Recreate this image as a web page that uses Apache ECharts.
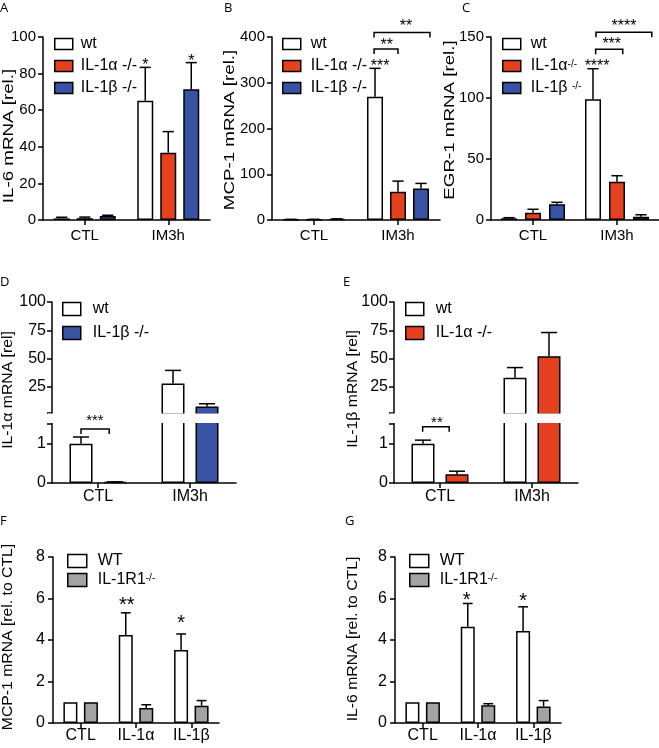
<!DOCTYPE html>
<html><head><meta charset="utf-8">
<script src="https://cdn.jsdelivr.net/npm/echarts@6/dist/echarts.min.js"></script>
<style>html,body{margin:0;padding:0;background:#fff}#c{width:659px;height:748px}</style>
</head><body><div id="c"></div>
<script>
// ---------------- data ----------------
const catsIM = ['CTL', 'IM3h'];
const catsStim = ['CTL', 'IL-1α', 'IL-1β'];

// A: IL-6 mRNA [rel.]
const yTicksA = [0, 20, 40, 60, 80, 100];
const aWt = [0.9, 65.2],  aWtErr = [1.5, 83.4];
const aKoA = [1.0, 36.8], aKoAErr = [1.6, 48.3];
const aKoB = [2.2, 71.4], aKoBErr = [2.6, 86.0];
const starsA = [[1, -1, 86.5, '*'], [1, 1, 89, '*']];

// B: MCP-1 mRNA [rel.]
const yTicksB = [0, 100, 200, 300, 400];
const bWt = [1, 269.5], bWtErr = [1.5, 331.5];
const bKoA = [1, 62],   bKoAErr = [1.5, 85];
const bKoB = [2, 69],   bKoBErr = [2.5, 80];
const bracketsB = [[1, -1.04, 0, 374], [1, -1.04, 1.39, 410]];
const starsB = [[1, -0.78, 345, '***'], [1, -0.49, 389, '**'], [1, 0.35, 431, '**']];

// C: EGR-1 mRNA [rel.]
const yTicksC = [0, 50, 100, 150];
const cWt = [1.4, 99],  cWtErr = [1.9, 124];
const cKoA = [6, 31.4], cKoAErr = [8.8, 36.3];
const cKoB = [12.9, 2.7], cKoBErr = [14.5, 4.3];
const bracketsC = [[1, -0.89, 0.24, 140], [1, -0.875, 1.45, 153.8]];
const starsC = [[1, -0.83, 129, '****'], [1, -0.22, 146.7, '***'], [1, 0.29, 161.5, '****']];

// D: IL-1α mRNA [rel] (broken axis)
const yTicksUpper = [25, 50, 75, 100];
const yTicksLower = [0, 1];
const dWt = [1.0, 28],   dWtErr = [1.17, 39.5];
const dKoB = [0.02, 7.5], dKoBErr = [0.03, 10];
const bracketsD = [[0, -0.5, 0.33, 1.37]];
const starsD = [[0, -0.09, 1.68, '***']];

// E: IL-1β mRNA [rel] (broken axis)
const eWt = [1.0, 33],   eWtErr = [1.09, 42];
const eKoA = [0.22, 52], eKoAErr = [0.30, 73];
const bracketsE = [[0, -0.51, 0.27, 1.43]];
const starsE = [[0, -0.09, 1.63, '**']];

// F: MCP-1 mRNA [rel. to CTL]
const yTicksFG = [0, 2, 4, 6, 8];
const fWT = [1, 4.24, 3.52],   fWTErr = [null, 5.31, 4.29];
const fR1 = [1, 0.72, 0.83],   fR1Err = [null, 0.88, 1.08];
const starsF = [[1, -0.45, 5.92, '**'], [2, -0.5, 5.05, '*']];

// G: IL-6 mRNA [rel. to CTL]
const gWT = [1, 4.64, 4.43],   gWTErr = [null, 5.76, 5.60];
const gR1 = [1, 0.85, 0.80],   gR1Err = [null, 0.93, 1.08];
const starsG = [[1, -0.55, 6.16, '*'], [2, -0.5, 6.08, '*']];

// ---------------- styling / helpers ----------------
const FONT = '"Liberation Sans", Arial, Helvetica, sans-serif';
const RED = '#e5411f', BLUE = '#3953a4', GREY = '#a3a3a3', WHITE = '#ffffff';
const LW = 1.5;

const option = {animation: false, backgroundColor: '#fff', grid: [], xAxis: [], yAxis: [], series: [], legend: [], graphic: []};

function addGrid(left, top, width, height) {
  option.grid.push({left, top, width, height, containLabel: false});
  return option.grid.length - 1;
}
function addX(gi, cats, fontSize, margin, show) {
  option.xAxis.push({
    type: 'category', gridIndex: gi, data: cats, show: show !== false, boundaryGap: true,
    axisLine: {show: true, onZero: false, lineStyle: {color: '#000', width: LW}},
    axisTick: {show: true, alignWithLabel: true, length: 5, lineStyle: {color: '#000', width: LW}},
    axisLabel: {color: '#000', fontSize, fontFamily: FONT, margin},
    splitLine: {show: false}
  });
  return option.xAxis.length - 1;
}
function addY(gi, ticks, fontSize, margin, extra) {
  const ax = {
    type: 'value', gridIndex: gi, min: ticks[0], max: ticks[ticks.length - 1], interval: ticks[1] - ticks[0],
    axisLine: {show: true, lineStyle: {color: '#000', width: LW}},
    axisTick: {show: true, length: 5, lineStyle: {color: '#000', width: LW}},
    axisLabel: {color: '#000', fontSize, fontFamily: FONT, margin},
    splitLine: {show: false}
  };
  if (extra) {
    if (extra.min != null) ax.min = extra.min;
    if (extra.max != null) ax.max = extra.max;
    if (extra.tickValues) ax.axisTick.customValues = extra.tickValues;
    if (extra.labelValues) ax.axisLabel.customValues = extra.labelValues;
  }
  option.yAxis.push(ax);
  return option.yAxis.length - 1;
}
function addBar(name, xi, yi, data, color, bw, gap) {
  option.series.push({
    type: 'bar', name, xAxisIndex: xi, yAxisIndex: yi, data,
    barWidth: bw, barGap: (gap / bw * 100) + '%', silent: true,
    itemStyle: {color, borderColor: '#000', borderWidth: LW},
    emphasis: {disabled: true}
  });
}
function addErr(xi, yi, groups, bw, gap, keep) {
  const n = groups.length, step = bw + gap, cw = bw * 0.7;
  const data = [];
  groups.forEach((g, k) => g[0].forEach((v, i) => {
    const e = g[1][i];
    if (e != null && (!keep || keep(v))) data.push([i, v, e, k]);
  }));
  option.series.push({
    type: 'custom', xAxisIndex: xi, yAxisIndex: yi, data, silent: true, clip: false,
    encode: {x: 0, y: [1, 2]},
    renderItem(params, api) {
      const c = api.value(0), k = api.value(3);
      const p = api.coord([c, api.value(1)]), q = api.coord([c, api.value(2)]);
      const x = p[0] + (k - (n - 1) / 2) * step;
      const st = {stroke: '#000', lineWidth: LW};
      return {type: 'group', children: [
        {type: 'line', shape: {x1: x, y1: p[1], x2: x, y2: q[1]}, style: st},
        {type: 'line', shape: {x1: x - cw / 2, y1: q[1], x2: x + cw / 2, y2: q[1]}, style: st}
      ]};
    }
  });
}
function addBrackets(xi, yi, list, step, hook) {
  option.series.push({
    type: 'custom', xAxisIndex: xi, yAxisIndex: yi, silent: true, clip: false, z: 200,
    data: list.map(b => [b[0], b[3], b[1], b[2]]),
    encode: {x: 0, y: 1},
    renderItem(params, api) {
      const p = api.coord([api.value(0), api.value(1)]);
      const x1 = p[0] + api.value(2) * step, x2 = p[0] + api.value(3) * step, y = p[1];
      return {type: 'polyline', shape: {points: [[x1, y + hook], [x1, y], [x2, y], [x2, y + hook]]},
        style: {stroke: '#000', lineWidth: LW, fill: null}};
    }
  });
}
function addStars(xi, yi, list, step, fontSize) {
  option.series.push({
    type: 'custom', xAxisIndex: xi, yAxisIndex: yi, silent: true, clip: false, z: 200,
    data: list.map(s => [s[0], s[2], s[1]]),
    encode: {x: 0, y: 1},
    renderItem(params, api) {
      const p = api.coord([api.value(0), api.value(1)]);
      return {type: 'text', x: p[0] + api.value(2) * step, y: p[1] + fontSize * 0.25,
        style: {text: list[params.dataIndex][3], fontSize, fontFamily: FONT, fill: '#000',
          align: 'center', verticalAlign: 'middle'}};
    }
  });
}
function addLegend(left, top, items, iw, ih, gap, fontSize, textPad) {
  const map = {};
  items.forEach(it => map[it[0]] = it[1]);
  option.legend.push({
    left, top, orient: 'vertical', padding: 0, itemWidth: iw, itemHeight: ih, itemGap: gap,
    selectedMode: false, icon: 'rect', data: items.map(it => it[0]),
    itemStyle: {borderColor: '#000', borderWidth: LW},
    formatter: name => map[name],
    textStyle: {color: '#000', fontSize, fontFamily: FONT, lineHeight: 14, padding: [0, 0, 0, textPad],
      rich: {n: {fontSize, fontFamily: FONT, color: '#000', lineHeight: 14},
             s: {fontSize: Math.round(fontSize * 0.6), fontFamily: FONT, color: '#000', verticalAlign: 'top', lineHeight: 14}}}
  });
}
function addText(text, x, y, fontSize, family) {
  option.graphic.push({type: 'text', left: x, top: y, silent: true,
    style: {text, fontSize, fontFamily: family || FONT, fill: '#000'}});
}
function addYTitle(text, cx, cy, fontSize, sx) {
  option.graphic.push({type: 'text', x: cx, y: cy, rotation: Math.PI / 2, scaleX: sx, silent: true,
    style: {text, fontSize, fontFamily: FONT, fill: '#000', align: 'center', verticalAlign: 'middle',
      textAlign: 'center', textVerticalAlign: 'middle'}});
}

// ---------------- Panel A ----------------
(function () {
  const g = addGrid(43, 37, 167, 183);
  const x = addX(g, catsIM, 15, 8), y = addY(g, yTicksA, 15, 7);
  addBar('A_wt', x, y, aWt, WHITE, 16, 7);
  addBar('A_a', x, y, aKoA, RED, 16, 7);
  addBar('A_b', x, y, aKoB, BLUE, 16, 7);
  addErr(x, y, [[aWt, aWtErr], [aKoA, aKoAErr], [aKoB, aKoBErr]], 16, 7);
  addStars(x, y, starsA, 23, 16);
  addLegend(54, 36, [['A_wt', 'wt'], ['A_a', 'IL-1α -/-'], ['A_b', 'IL-1β -/-']], 18, 11, 6, 16, 3);
})();
// ---------------- Panel B ----------------
(function () {
  const g = addGrid(272, 37, 168, 183);
  const x = addX(g, catsIM, 15, 8), y = addY(g, yTicksB, 15, 7);
  addBar('B_wt', x, y, bWt, WHITE, 16, 7);
  addBar('B_a', x, y, bKoA, RED, 16, 7);
  addBar('B_b', x, y, bKoB, BLUE, 16, 7);
  addErr(x, y, [[bWt, bWtErr], [bKoA, bKoAErr], [bKoB, bKoBErr]], 16, 7);
  addBrackets(x, y, bracketsB, 23, 5);
  addStars(x, y, starsB, 23, 16);
  addLegend(282, 36, [['B_wt', 'wt'], ['B_a', 'IL-1α -/-'], ['B_b', 'IL-1β -/-']], 18, 11, 6, 16, 5);
})();
// ---------------- Panel C ----------------
(function () {
  const g = addGrid(491, 37, 168, 183);
  const x = addX(g, catsIM, 15, 8), y = addY(g, yTicksC, 15, 7);
  addBar('C_wt', x, y, cWt, WHITE, 16, 8);
  addBar('C_a', x, y, cKoA, RED, 16, 8);
  addBar('C_b', x, y, cKoB, BLUE, 16, 8);
  addErr(x, y, [[cWt, cWtErr], [cKoA, cKoAErr], [cKoB, cKoBErr]], 16, 8);
  addBrackets(x, y, bracketsC, 24, 5);
  addStars(x, y, starsC, 24, 16);
  addLegend(502, 36, [['C_wt', 'wt'], ['C_a', '{n|IL-1α}{s|-/-}'], ['C_b', '{n|IL-1β }{s|-/-}']], 18, 11, 6, 16, 5);
})();
// ---------------- Panels D & E (broken axes) ----------------
function brokenPanel(left, groups, colors, names, brackets, stars, legendLeft, legendItems) {
  const UPPER_MIN = 0.5, LOWER_MAX = 1.551, BREAK_VAL = 1.5;
  const gu = addGrid(left, 302, 184, 112.5);
  const gl = addGrid(left, 422, 184, 61);
  const xu = addX(gu, catsIM, 16, 6, false);
  const yu = addY(gu, [0].concat(yTicksUpper), 16, 6, {min: UPPER_MIN, tickValues: [2].concat(yTicksUpper), labelValues: yTicksUpper});
  const xl = addX(gl, catsIM, 16, 6);
  const yl = addY(gl, [0, 0.5, 1, 1.5], 16, 6, {max: LOWER_MAX, tickValues: [0, 1, 1.5], labelValues: yTicksLower});
  groups.forEach((gr, k) => {
    addBar(names[k] + '_u', xu, yu, gr[0].map(v => v > BREAK_VAL ? v : '-'), colors[k], 23, 11);
    addBar(names[k], xl, yl, gr[0], colors[k], 23, 11);
  });
  addErr(xu, yu, groups, 23, 11, v => v > BREAK_VAL);
  addErr(xl, yl, groups, 23, 11, v => v <= BREAK_VAL);
  addBrackets(xl, yl, brackets, 34, 5);
  addStars(xl, yl, stars, 34, 15);
  addLegend(legendLeft, 301, legendItems, 18, 13, 8, 16, 7);
  // white gap of the axis break
  option.graphic.push({type: 'rect', z: 100, silent: true,
    shape: {x: left - 4, y: 413.4, width: 190, height: 9.6}, style: {fill: '#fff'}});
}
brokenPanel(52, [[dWt, dWtErr], [dKoB, dKoBErr]], [WHITE, BLUE], ['D_wt', 'D_b'],
  bracketsD, starsD, 62, [['D_wt', 'wt'], ['D_b', 'IL-1β -/-']]);
brokenPanel(394, [[eWt, eWtErr], [eKoA, eKoAErr]], [WHITE, RED], ['E_wt', 'E_a'],
  bracketsE, starsE, 405, [['E_wt', 'wt'], ['E_a', 'IL-1α -/-']]);
// ---------------- Panels F & G ----------------
function stimPanel(left, wt, wtErr, r1, r1Err, stars, pre, legendLeft) {
  const g = addGrid(left, 557, 166, 166);
  const x = addX(g, catsStim, 16, 5), y = addY(g, yTicksFG, 16, 8);
  addBar(pre + '_wt', x, y, wt, WHITE, 14, 6.5);
  addBar(pre + '_r1', x, y, r1, GREY, 14, 6.5);
  addErr(x, y, [[wt, wtErr], [r1, r1Err]], 14, 6.5);
  addStars(x, y, stars, 20.5, 20);
  addLegend(legendLeft, 553, [[pre + '_wt', 'WT'], [pre + '_r1', '{n|IL-1R1}{s|-/-}']], 19, 13, 3, 16, 6);
}
stimPanel(53, fWT, fWTErr, fR1, fR1Err, starsF, 'F', 67);
stimPanel(395, gWT, gWTErr, gR1, gR1Err, starsG, 'G', 409);

// ---------------- titles & panel letters ----------------
addYTitle('IL-6 mRNA [rel.]', 9, 136, 15, 1.25);
addYTitle('MCP-1 mRNA [rel.]', 230, 130, 15, 1.25);
addYTitle('EGR-1 mRNA [rel.]', 450, 120, 15, 1.25);
addYTitle('IL-1α mRNA [rel]', 8, 390, 15, 1.05);
addYTitle('IL-1β mRNA [rel]', 353, 389, 15, 1.05);
addYTitle('MCP-1 mRNA [rel. to CTL]', 8, 637, 15, 1.05);
addYTitle('IL-6 mRNA [rel. to CTL]', 353, 639, 15, 1.05);
addText('A', 0, 2, 13, 'Open Sans');
addText('B', 224, 2, 13, 'Open Sans');
addText('C', 462, 2, 13, 'Open Sans');
addText('D', 0, 276, 13, 'Open Sans');
addText('E', 343, 276, 13, 'Open Sans');
addText('F', 0, 515, 13, 'Open Sans');
addText('G', 345, 515, 13, 'Open Sans');

const chart = echarts.init(document.getElementById('c'), null, {renderer: 'canvas'});
chart.setOption(option);
</script></body></html>
